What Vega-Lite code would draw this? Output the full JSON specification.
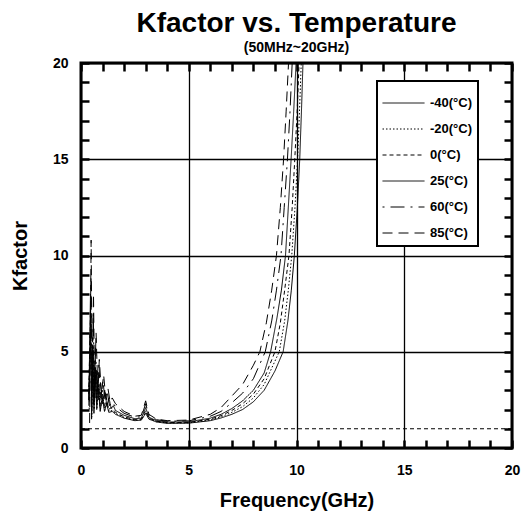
{
  "$schema": "https://vega.github.io/schema/vega-lite/v6.json",
  "width": 431,
  "height": 385,
  "autosize": {"type": "none"},
  "padding": {"left": 81, "top": 63, "right": 15, "bottom": 69},
  "background": "white",
  "title": {
    "text": "Kfactor vs. Temperature",
    "subtitle": "(50MHz~20GHz)",
    "fontSize": 28,
    "fontWeight": "bold",
    "color": "black",
    "subtitleFontSize": 14,
    "subtitleFontWeight": "bold",
    "subtitleColor": "black",
    "subtitlePadding": 3,
    "anchor": "middle",
    "frame": "group",
    "offset": 1
  },
  "datasets": {
    "curves": [
      {"T": "-40(°C)", "f": 0.36, "k": 2.2}, {"T": "-40(°C)", "f": 0.44, "k": 8.0}, {"T": "-40(°C)", "f": 0.49, "k": 1.5}, {"T": "-40(°C)", "f": 0.55, "k": 5.0}, {"T": "-40(°C)", "f": 0.6, "k": 1.8}, {"T": "-40(°C)", "f": 0.66, "k": 3.8}, {"T": "-40(°C)", "f": 0.73, "k": 2.0}, {"T": "-40(°C)", "f": 0.81, "k": 3.1}, {"T": "-40(°C)", "f": 0.89, "k": 1.9}, {"T": "-40(°C)", "f": 0.99, "k": 2.6}, {"T": "-40(°C)", "f": 1.09, "k": 1.9}, {"T": "-40(°C)", "f": 1.19, "k": 2.3}, {"T": "-40(°C)", "f": 1.29, "k": 1.85}, {"T": "-40(°C)", "f": 1.45, "k": 1.9},
      {"T": "-40(°C)", "f": 1.6, "k": 1.75}, {"T": "-40(°C)", "f": 2.0, "k": 1.55}, {"T": "-40(°C)", "f": 2.5, "k": 1.42}, {"T": "-40(°C)", "f": 2.8, "k": 1.45}, {"T": "-40(°C)", "f": 3.0, "k": 1.8}, {"T": "-40(°C)", "f": 3.15, "k": 1.5}, {"T": "-40(°C)", "f": 3.5, "k": 1.35}, {"T": "-40(°C)", "f": 4.0, "k": 1.28}, {"T": "-40(°C)", "f": 5.0, "k": 1.29}, {"T": "-40(°C)", "f": 6.0, "k": 1.42}, {"T": "-40(°C)", "f": 6.5, "k": 1.56}, {"T": "-40(°C)", "f": 7.0, "k": 1.75}, {"T": "-40(°C)", "f": 7.5, "k": 2.0}, {"T": "-40(°C)", "f": 8.0, "k": 2.4}, {"T": "-40(°C)", "f": 8.5, "k": 3.0}, {"T": "-40(°C)", "f": 9.0, "k": 4.0}, {"T": "-40(°C)", "f": 9.38, "k": 5.0}, {"T": "-40(°C)", "f": 9.6, "k": 6.6}, {"T": "-40(°C)", "f": 9.76, "k": 8.2}, {"T": "-40(°C)", "f": 9.9, "k": 10}, {"T": "-40(°C)", "f": 10.04, "k": 12.5}, {"T": "-40(°C)", "f": 10.15, "k": 15}, {"T": "-40(°C)", "f": 10.23, "k": 17.5}, {"T": "-40(°C)", "f": 10.3, "k": 20}, {"T": "-40(°C)", "f": 10.42, "k": 23},

      {"T": "-20(°C)", "f": 0.37, "k": 3.0}, {"T": "-20(°C)", "f": 0.45, "k": 6.5}, {"T": "-20(°C)", "f": 0.5, "k": 1.6}, {"T": "-20(°C)", "f": 0.56, "k": 5.3}, {"T": "-20(°C)", "f": 0.61, "k": 2.0}, {"T": "-20(°C)", "f": 0.67, "k": 4.0}, {"T": "-20(°C)", "f": 0.74, "k": 2.1}, {"T": "-20(°C)", "f": 0.82, "k": 3.3}, {"T": "-20(°C)", "f": 0.9, "k": 2.0}, {"T": "-20(°C)", "f": 1.0, "k": 2.8}, {"T": "-20(°C)", "f": 1.1, "k": 1.95}, {"T": "-20(°C)", "f": 1.2, "k": 2.4}, {"T": "-20(°C)", "f": 1.3, "k": 1.9}, {"T": "-20(°C)", "f": 1.45, "k": 1.95},
      {"T": "-20(°C)", "f": 1.6, "k": 1.8}, {"T": "-20(°C)", "f": 2.0, "k": 1.58}, {"T": "-20(°C)", "f": 2.5, "k": 1.44}, {"T": "-20(°C)", "f": 2.8, "k": 1.47}, {"T": "-20(°C)", "f": 3.0, "k": 1.85}, {"T": "-20(°C)", "f": 3.15, "k": 1.52}, {"T": "-20(°C)", "f": 3.5, "k": 1.37}, {"T": "-20(°C)", "f": 4.0, "k": 1.3}, {"T": "-20(°C)", "f": 5.0, "k": 1.31}, {"T": "-20(°C)", "f": 6.0, "k": 1.46}, {"T": "-20(°C)", "f": 6.5, "k": 1.62}, {"T": "-20(°C)", "f": 7.0, "k": 1.85}, {"T": "-20(°C)", "f": 7.5, "k": 2.15}, {"T": "-20(°C)", "f": 8.0, "k": 2.6}, {"T": "-20(°C)", "f": 8.5, "k": 3.3}, {"T": "-20(°C)", "f": 9.2, "k": 5.0}, {"T": "-20(°C)", "f": 9.45, "k": 6.6}, {"T": "-20(°C)", "f": 9.62, "k": 8.2}, {"T": "-20(°C)", "f": 9.78, "k": 10}, {"T": "-20(°C)", "f": 9.93, "k": 12.5}, {"T": "-20(°C)", "f": 10.05, "k": 15}, {"T": "-20(°C)", "f": 10.14, "k": 17.5}, {"T": "-20(°C)", "f": 10.22, "k": 20}, {"T": "-20(°C)", "f": 10.35, "k": 23},

      {"T": "0(°C)", "f": 0.36, "k": 2.8}, {"T": "0(°C)", "f": 0.44, "k": 7.0}, {"T": "0(°C)", "f": 0.49, "k": 1.8}, {"T": "0(°C)", "f": 0.54, "k": 5.8}, {"T": "0(°C)", "f": 0.59, "k": 2.2}, {"T": "0(°C)", "f": 0.66, "k": 4.5}, {"T": "0(°C)", "f": 0.72, "k": 2.3}, {"T": "0(°C)", "f": 0.8, "k": 3.7}, {"T": "0(°C)", "f": 0.88, "k": 2.2}, {"T": "0(°C)", "f": 0.98, "k": 3.0}, {"T": "0(°C)", "f": 1.08, "k": 2.1}, {"T": "0(°C)", "f": 1.18, "k": 2.6}, {"T": "0(°C)", "f": 1.28, "k": 2.0}, {"T": "0(°C)", "f": 1.4, "k": 2.1}, {"T": "0(°C)", "f": 1.5, "k": 2.0},
      {"T": "0(°C)", "f": 1.6, "k": 1.85}, {"T": "0(°C)", "f": 2.0, "k": 1.62}, {"T": "0(°C)", "f": 2.5, "k": 1.47}, {"T": "0(°C)", "f": 2.8, "k": 1.5}, {"T": "0(°C)", "f": 3.0, "k": 1.95}, {"T": "0(°C)", "f": 3.15, "k": 1.55}, {"T": "0(°C)", "f": 3.5, "k": 1.39}, {"T": "0(°C)", "f": 4.0, "k": 1.32}, {"T": "0(°C)", "f": 5.0, "k": 1.33}, {"T": "0(°C)", "f": 6.0, "k": 1.5}, {"T": "0(°C)", "f": 6.5, "k": 1.68}, {"T": "0(°C)", "f": 7.0, "k": 1.95}, {"T": "0(°C)", "f": 7.5, "k": 2.3}, {"T": "0(°C)", "f": 8.0, "k": 2.8}, {"T": "0(°C)", "f": 8.5, "k": 3.6}, {"T": "0(°C)", "f": 9.0, "k": 5.0}, {"T": "0(°C)", "f": 9.25, "k": 6.5}, {"T": "0(°C)", "f": 9.45, "k": 8.2}, {"T": "0(°C)", "f": 9.65, "k": 10}, {"T": "0(°C)", "f": 9.8, "k": 12.5}, {"T": "0(°C)", "f": 9.92, "k": 15}, {"T": "0(°C)", "f": 10.03, "k": 17.5}, {"T": "0(°C)", "f": 10.12, "k": 20}, {"T": "0(°C)", "f": 10.25, "k": 23},

      {"T": "25(°C)", "f": 0.35, "k": 2.5}, {"T": "25(°C)", "f": 0.45, "k": 5.5}, {"T": "25(°C)", "f": 0.5, "k": 2.0}, {"T": "25(°C)", "f": 0.55, "k": 5.0}, {"T": "25(°C)", "f": 0.6, "k": 2.4}, {"T": "25(°C)", "f": 0.65, "k": 4.2}, {"T": "25(°C)", "f": 0.7, "k": 2.6}, {"T": "25(°C)", "f": 0.75, "k": 4.0}, {"T": "25(°C)", "f": 0.8, "k": 2.5}, {"T": "25(°C)", "f": 0.9, "k": 3.4}, {"T": "25(°C)", "f": 1.0, "k": 2.3}, {"T": "25(°C)", "f": 1.1, "k": 3.0}, {"T": "25(°C)", "f": 1.2, "k": 2.2}, {"T": "25(°C)", "f": 1.3, "k": 2.6}, {"T": "25(°C)", "f": 1.4, "k": 2.05}, {"T": "25(°C)", "f": 1.5, "k": 2.2},
      {"T": "25(°C)", "f": 1.6, "k": 1.95}, {"T": "25(°C)", "f": 2.0, "k": 1.7}, {"T": "25(°C)", "f": 2.5, "k": 1.52}, {"T": "25(°C)", "f": 2.8, "k": 1.55}, {"T": "25(°C)", "f": 3.0, "k": 2.1}, {"T": "25(°C)", "f": 3.15, "k": 1.6}, {"T": "25(°C)", "f": 3.5, "k": 1.42}, {"T": "25(°C)", "f": 4.0, "k": 1.35}, {"T": "25(°C)", "f": 5.0, "k": 1.36}, {"T": "25(°C)", "f": 6.0, "k": 1.55}, {"T": "25(°C)", "f": 6.5, "k": 1.75}, {"T": "25(°C)", "f": 7.0, "k": 2.05}, {"T": "25(°C)", "f": 7.5, "k": 2.45}, {"T": "25(°C)", "f": 8.0, "k": 3.0}, {"T": "25(°C)", "f": 8.5, "k": 3.9}, {"T": "25(°C)", "f": 8.8, "k": 5.0}, {"T": "25(°C)", "f": 9.1, "k": 6.8}, {"T": "25(°C)", "f": 9.3, "k": 8.2}, {"T": "25(°C)", "f": 9.49, "k": 10}, {"T": "25(°C)", "f": 9.62, "k": 12.5}, {"T": "25(°C)", "f": 9.75, "k": 15}, {"T": "25(°C)", "f": 9.87, "k": 17.5}, {"T": "25(°C)", "f": 9.98, "k": 20}, {"T": "25(°C)", "f": 10.1, "k": 23},

      {"T": "60(°C)", "f": 0.38, "k": 2.0}, {"T": "60(°C)", "f": 0.46, "k": 8.8}, {"T": "60(°C)", "f": 0.51, "k": 2.6}, {"T": "60(°C)", "f": 0.57, "k": 7.0}, {"T": "60(°C)", "f": 0.62, "k": 2.8}, {"T": "60(°C)", "f": 0.68, "k": 5.2}, {"T": "60(°C)", "f": 0.75, "k": 2.7}, {"T": "60(°C)", "f": 0.83, "k": 4.3}, {"T": "60(°C)", "f": 0.92, "k": 2.6}, {"T": "60(°C)", "f": 1.02, "k": 3.5}, {"T": "60(°C)", "f": 1.12, "k": 2.4}, {"T": "60(°C)", "f": 1.22, "k": 2.9}, {"T": "60(°C)", "f": 1.32, "k": 2.2}, {"T": "60(°C)", "f": 1.45, "k": 2.4},
      {"T": "60(°C)", "f": 1.6, "k": 2.15}, {"T": "60(°C)", "f": 2.0, "k": 1.8}, {"T": "60(°C)", "f": 2.5, "k": 1.6}, {"T": "60(°C)", "f": 2.8, "k": 1.62}, {"T": "60(°C)", "f": 3.0, "k": 2.3}, {"T": "60(°C)", "f": 3.15, "k": 1.7}, {"T": "60(°C)", "f": 3.5, "k": 1.47}, {"T": "60(°C)", "f": 4.0, "k": 1.39}, {"T": "60(°C)", "f": 5.0, "k": 1.41}, {"T": "60(°C)", "f": 6.0, "k": 1.65}, {"T": "60(°C)", "f": 6.5, "k": 1.9}, {"T": "60(°C)", "f": 7.0, "k": 2.35}, {"T": "60(°C)", "f": 7.5, "k": 2.85}, {"T": "60(°C)", "f": 8.0, "k": 3.6}, {"T": "60(°C)", "f": 8.55, "k": 5.0}, {"T": "60(°C)", "f": 8.85, "k": 6.6}, {"T": "60(°C)", "f": 9.07, "k": 8.2}, {"T": "60(°C)", "f": 9.28, "k": 10}, {"T": "60(°C)", "f": 9.43, "k": 12.5}, {"T": "60(°C)", "f": 9.58, "k": 15}, {"T": "60(°C)", "f": 9.7, "k": 17.5}, {"T": "60(°C)", "f": 9.8, "k": 20}, {"T": "60(°C)", "f": 9.92, "k": 23},

      {"T": "85(°C)", "f": 0.4, "k": 1.3}, {"T": "85(°C)", "f": 0.47, "k": 10.8}, {"T": "85(°C)", "f": 0.52, "k": 3.0}, {"T": "85(°C)", "f": 0.58, "k": 8.0}, {"T": "85(°C)", "f": 0.63, "k": 3.2}, {"T": "85(°C)", "f": 0.7, "k": 6.0}, {"T": "85(°C)", "f": 0.78, "k": 3.0}, {"T": "85(°C)", "f": 0.85, "k": 4.6}, {"T": "85(°C)", "f": 0.95, "k": 2.8}, {"T": "85(°C)", "f": 1.05, "k": 3.8}, {"T": "85(°C)", "f": 1.15, "k": 2.6}, {"T": "85(°C)", "f": 1.25, "k": 3.1}, {"T": "85(°C)", "f": 1.35, "k": 2.4}, {"T": "85(°C)", "f": 1.45, "k": 2.6},
      {"T": "85(°C)", "f": 1.6, "k": 2.3}, {"T": "85(°C)", "f": 2.0, "k": 1.9}, {"T": "85(°C)", "f": 2.5, "k": 1.65}, {"T": "85(°C)", "f": 2.8, "k": 1.7}, {"T": "85(°C)", "f": 3.0, "k": 2.45}, {"T": "85(°C)", "f": 3.15, "k": 1.75}, {"T": "85(°C)", "f": 3.5, "k": 1.5}, {"T": "85(°C)", "f": 4.0, "k": 1.42}, {"T": "85(°C)", "f": 5.0, "k": 1.45}, {"T": "85(°C)", "f": 6.0, "k": 1.75}, {"T": "85(°C)", "f": 6.5, "k": 2.1}, {"T": "85(°C)", "f": 7.0, "k": 2.7}, {"T": "85(°C)", "f": 7.5, "k": 3.3}, {"T": "85(°C)", "f": 8.0, "k": 4.3}, {"T": "85(°C)", "f": 8.3, "k": 5.0}, {"T": "85(°C)", "f": 8.6, "k": 6.5}, {"T": "85(°C)", "f": 8.85, "k": 8.2}, {"T": "85(°C)", "f": 9.07, "k": 10}, {"T": "85(°C)", "f": 9.25, "k": 12.5}, {"T": "85(°C)", "f": 9.4, "k": 15}, {"T": "85(°C)", "f": 9.52, "k": 17.5}, {"T": "85(°C)", "f": 9.63, "k": 20}, {"T": "85(°C)", "f": 9.75, "k": 23}
    ],
    "refline": [{"name": "K=1"}]
  },
  "layer": [
    {
      "data": {"name": "refline"},
      "mark": {"type": "rule", "color": "black", "strokeWidth": 1, "strokeDash": [4, 3]},
      "encoding": {
        "x": {
          "datum": 0,
          "type": "quantitative",
          "scale": {"domain": [0, 20], "nice": false, "zero": false},
          "axis": {
            "orient": "top",
            "values": [0, 1, 2, 3, 4, 5, 6, 7, 8, 9, 10, 11, 12, 13, 14, 15, 16, 17, 18, 19, 20],
            "labels": false,
            "grid": false,
            "domain": false,
            "ticks": true,
            "tickSize": -8,
            "tickWidth": 2.5,
            "tickColor": "black",
            "title": null
          }
        },
        "x2": {"datum": 20},
        "y": {
          "datum": 1,
          "type": "quantitative",
          "scale": {"domain": [0, 20], "nice": false, "zero": false},
          "axis": {
            "orient": "right",
            "values": [0, 1, 2, 3, 4, 5, 6, 7, 8, 9, 10, 11, 12, 13, 14, 15, 16, 17, 18, 19, 20],
            "labels": false,
            "grid": false,
            "domain": false,
            "ticks": true,
            "tickSize": -8,
            "tickWidth": 2.5,
            "tickColor": "black",
            "title": null
          }
        }
      }
    },
    {
      "data": {"name": "curves"},
      "mark": {"type": "line", "color": "black", "clip": true},
      "encoding": {
        "x": {
          "field": "f",
          "type": "quantitative",
          "scale": {"domain": [0, 20], "nice": false, "zero": false},
          "axis": {
            "orient": "bottom",
            "values": [0, 1, 2, 3, 4, 5, 6, 7, 8, 9, 10, 11, 12, 13, 14, 15, 16, 17, 18, 19, 20],
            "labelExpr": "datum.value % 5 === 0 ? datum.label : ''",
            "labelOverlap": false,
            "labelFlush": false,
            "labelFontSize": 14,
            "labelFontWeight": "bold",
            "labelColor": "black",
            "labelPadding": 23,
            "labelBaseline": "top",
            "domain": false,
            "ticks": true,
            "tickSize": -8,
            "tickWidth": 2.5,
            "tickColor": "black",
            "grid": true,
            "gridColor": {"condition": {"test": "datum.value % 5 === 0", "value": "black"}, "value": "transparent"},
            "gridWidth": 1.3,
            "gridOpacity": 1,
            "title": "Frequency(GHz)",
            "titleFontSize": 20,
            "titleFontWeight": "bold",
            "titleColor": "black",
            "titlePadding": 13
          }
        },
        "y": {
          "field": "k",
          "type": "quantitative",
          "scale": {"domain": [0, 20], "nice": false, "zero": false},
          "axis": {
            "orient": "left",
            "values": [0, 1, 2, 3, 4, 5, 6, 7, 8, 9, 10, 11, 12, 13, 14, 15, 16, 17, 18, 19, 20],
            "labelExpr": "datum.value % 5 === 0 ? datum.label : ''",
            "labelOverlap": false,
            "labelFlush": false,
            "labelFontSize": 14,
            "labelFontWeight": "bold",
            "labelColor": "black",
            "labelPadding": 21,
            "domain": false,
            "ticks": true,
            "tickSize": -8,
            "tickWidth": 2.5,
            "tickColor": "black",
            "grid": true,
            "gridColor": {"condition": {"test": "datum.value % 5 === 0", "value": "black"}, "value": "transparent"},
            "gridWidth": 1.3,
            "gridOpacity": 1,
            "title": "Kfactor",
            "titleFontSize": 20,
            "titleFontWeight": "bold",
            "titleColor": "black",
            "titlePadding": 22
          }
        },
        "strokeDash": {
          "field": "T",
          "type": "nominal",
          "scale": {
            "domain": ["-40(°C)", "-20(°C)", "0(°C)", "25(°C)", "60(°C)", "85(°C)"],
            "range": [[1, 0], [1.5, 2], [4, 3], [1, 0], [2, 6, 14, 6], [10, 6]]
          },
          "legend": {"title": " "}
        },
        "strokeWidth": {
          "field": "T",
          "type": "nominal",
          "scale": {
            "domain": ["-40(°C)", "-20(°C)", "0(°C)", "25(°C)", "60(°C)", "85(°C)"],
            "range": [1, 1, 1, 2.8, 1, 1]
          },
          "legend": null
        }
      }
    }
  ],
  "resolve": {"axis": {"x": "independent", "y": "independent"}},
  "config": {
    "font": "Liberation Sans",
    "view": {"stroke": "black", "strokeWidth": 3},
    "legend": {
      "orient": "none",
      "legendX": 296,
      "legendY": 18,
      "fillColor": "white",
      "strokeColor": "black",
      "strokeWidth": 2,
      "padding": 5,
      "titleFontSize": 5,
      "titlePadding": 4,
      "clipHeight": 16,
      "symbolType": "stroke",
      "symbolSize": 1764,
      "symbolStrokeColor": "black",
      "labelFontSize": 13,
      "labelFontWeight": "bold",
      "labelColor": "black",
      "labelOffset": 5,
      "rowPadding": 10
    }
  }
}
